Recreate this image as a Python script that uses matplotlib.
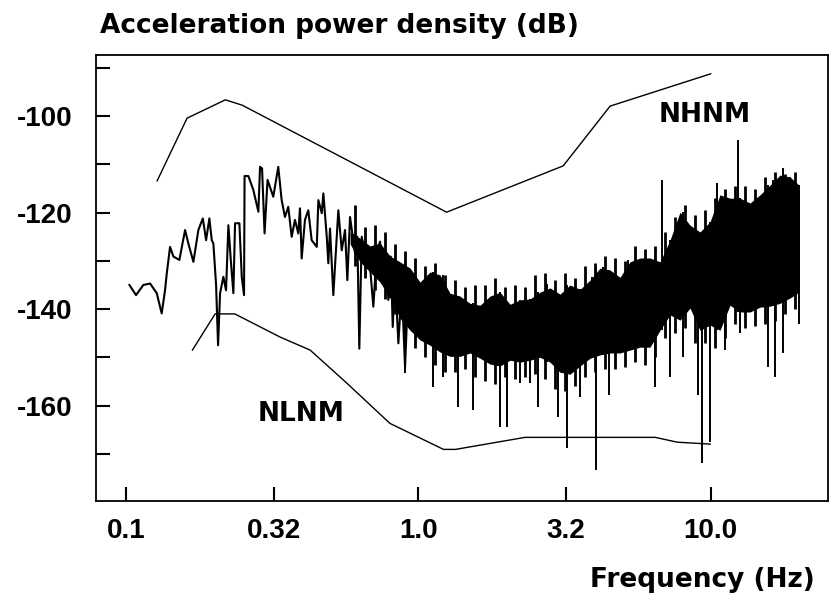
import matplotlib
matplotlib.use('Agg')
import matplotlib.pyplot as plt

# new high / new low noise models (Hz, dB)
nhnm_f = [0.128, 0.162, 0.219, 0.250, 1.25, 3.13, 4.53, 10.0]
nhnm_db = [-113.4, -100.4, -96.6, -97.7, -119.9, -110.3, -97.9, -91.2]

nlnm_f = [0.169, 0.202, 0.236, 0.337, 0.427, 0.571, 0.80, 1.22, 1.34, 2.32, 6.46, 7.68, 9.96]
nlnm_db = [-148.5, -141.0, -141.0, -145.8, -148.5, -155.4, -163.7, -169.1, -169.1, -166.6, -166.6, -167.6, -168.0]

# low frequency part of the spectrum, single trace
spec_f = [0.1029, 0.1084, 0.1148, 0.1211, 0.1276, 0.1327, 0.1362, 0.1381, 0.1417, 0.1455,
          0.1525, 0.1595, 0.1637, 0.1703, 0.1771, 0.1834, 0.1882, 0.1931, 0.1968, 0.1993,
          0.2036, 0.2068, 0.2101, 0.2156, 0.2202, 0.2243, 0.2286, 0.2333, 0.2364, 0.2446,
          0.2492, 0.2537, 0.2548, 0.2625, 0.2730, 0.2840, 0.2878, 0.2924, 0.2982, 0.3053,
          0.3194, 0.3322, 0.3412, 0.3502, 0.3594, 0.3692, 0.3789, 0.3889, 0.3941, 0.3994,
          0.4099, 0.4207, 0.4321, 0.4498, 0.4555, 0.4679, 0.4738, 0.4866, 0.4927, 0.4993,
          0.5124, 0.5330, 0.5475, 0.5619, 0.5722, 0.5845, 0.6079, 0.6190, 0.6288, 0.6408,
          0.6577, 0.6699, 0.6842, 0.7022, 0.7213, 0.7403, 0.7562, 0.7761, 0.7903, 0.8054,
          0.8181, 0.8331, 0.8551, 0.8782, 0.9014, 0.9252]
spec_db = [-135.0, -137.1, -135.0, -134.7, -136.7, -140.9, -136.1, -132.6, -127.1, -129.1,
           -129.8, -123.6, -126.4, -130.2, -123.6, -121.2, -125.7, -121.2, -125.7, -126.4,
           -135.0, -147.5, -136.7, -133.3, -136.1, -122.6, -129.8, -136.7, -122.2, -122.2,
           -133.3, -137.1, -112.4, -112.4, -115.3, -119.8, -110.5, -110.8, -124.3, -113.2,
           -116.7, -110.5, -117.4, -120.9, -118.8, -125.0, -121.5, -124.3, -119.1, -129.5,
           -121.5, -119.5, -125.7, -127.1, -117.4, -120.1, -116.0, -125.0, -130.5, -123.3,
           -137.1, -119.5, -127.8, -123.6, -134.0, -120.9, -128.4, -125.0, -148.2, -125.0,
           -128.4, -129.1, -131.2, -139.5, -128.4, -126.0, -132.6, -129.8, -138.1, -129.1,
           -143.7, -132.6, -147.1, -135.4, -152.0, -134.7]

# dense part of the spectrum: upper and lower edge of the black band
band_f = [0.585, 0.632, 0.684, 0.740, 0.801, 0.866, 0.938, 1.014, 1.097, 1.187,
          1.284, 1.389, 1.503, 1.627, 1.760, 1.904, 2.060, 2.228, 2.411, 2.608,
          2.822, 3.053, 3.304, 3.574, 3.867, 4.183, 4.526, 4.897, 5.298, 5.732,
          6.201, 6.709, 7.259, 7.853, 8.497, 9.193, 9.945, 10.76, 11.64, 12.60,
          13.63, 14.74, 15.95, 17.26, 18.67, 20.04]
band_top = [-124.0, -125.3, -126.9, -126.3, -129.0, -130.2, -131.5, -134.4, -132.3, -132.9,
            -136.7, -137.3, -138.8, -139.2, -137.3, -136.5, -139.0, -138.1, -137.9, -136.5,
            -135.6, -136.9, -135.0, -135.9, -134.0, -131.5, -131.9, -133.4, -130.2, -129.4,
            -129.4, -130.2, -125.7, -119.9, -122.6, -124.0, -121.9, -116.3, -117.0, -117.0,
            -118.0, -116.3, -114.3, -112.2, -112.6, -114.3]
band_bot = [-126.5, -130.2, -132.3, -134.4, -137.7, -141.9, -144.4, -146.4, -147.5, -148.9,
            -149.8, -149.8, -149.1, -150.2, -151.4, -151.8, -150.6, -151.0, -150.6, -150.0,
            -151.0, -153.1, -153.5, -151.8, -150.2, -149.5, -149.1, -149.1, -148.5, -147.9,
            -147.9, -144.4, -141.2, -142.3, -139.8, -144.4, -143.3, -144.4, -139.2, -140.6,
            -140.6, -139.6, -139.4, -138.8, -137.7, -136.5]

# short ragged strokes across the band (sticking out on both sides)
fringe_f = [0.6079, 0.6577, 0.7116, 0.7698, 0.8331, 0.9014, 0.9752, 1.055, 1.141, 1.235,
            1.336, 1.445, 1.564, 1.692, 1.830, 1.981, 2.142, 2.318, 2.508, 2.713,
            2.935, 3.176, 3.436, 3.718, 4.022, 4.351, 4.708, 5.093, 5.510, 5.962,
            6.450, 6.978, 7.551, 8.168, 8.838, 9.561, 10.34, 11.19, 12.11, 13.10,
            14.17, 15.33, 16.59, 17.95, 19.42]
fringe_hi = [-118.5, -123.0, -122.5, -124.0, -126.5, -128.0, -129.5, -131.0, -130.5, -133.0,
             -134.0, -135.5, -135.0, -135.0, -133.5, -135.5, -135.0, -135.5, -133.0, -132.5,
             -134.0, -132.5, -133.5, -131.0, -130.5, -129.0, -129.5, -130.0, -127.0, -127.5,
             -127.0, -124.0, -121.0, -118.5, -120.5, -119.5, -117.0, -115.0, -114.5, -114.5,
             -115.0, -112.5, -111.5, -112.0, -111.5]
fringe_lo = [-131.0, -133.5, -136.0, -138.0, -141.0, -145.0, -148.0, -150.0, -151.5, -153.0,
             -153.0, -152.5, -154.0, -155.0, -155.5, -154.0, -154.5, -154.0, -153.5, -154.5,
             -156.5, -157.0, -156.0, -154.0, -153.0, -152.5, -152.5, -152.0, -151.0, -151.5,
             -150.0, -146.0, -145.0, -144.0, -147.0, -147.0, -148.0, -146.0, -143.0, -144.0,
             -143.5, -143.0, -142.5, -141.0, -140.0]

# single long spikes sticking out of the band
dn_f = [0.901, 1.121, 1.218, 1.371, 1.543, 1.904, 2.016, 2.228, 2.411, 2.574,
        3.013, 3.219, 3.574, 4.054, 4.502, 6.450, 7.259, 8.06, 9.07, 9.316,
        9.945, 11.19, 12.60, 15.74, 16.59, 17.71, 20.09]
dn_db = [-153.3, -156.1, -154.0, -160.3, -161.0, -164.4, -164.4, -155.4, -155.4, -160.3,
         -162.3, -168.9, -158.2, -173.3, -157.8, -156.1, -154.0, -149.9, -157.8, -172.0,
         -167.5, -148.5, -145.0, -152.0, -154.0, -149.2, -143.0]
up_f = [0.801, 1.904, 2.750, 3.919, 4.294, 5.228, 6.80, 10.54, 12.42, 16.36, 17.71, 18.67]
up_db = [-129.1, -136.4, -134.7, -133.3, -131.2, -129.8, -113.2, -113.9, -104.9, -113.2, -110.8, -112.6]

xticks = [0.1, 0.32, 1.0, 3.2, 10.0]
xlabels = ['0.1', '0.32', '1.0', '3.2', '10.0']
yticks = [-160, -140, -120, -100]
yminor = [-170, -150, -130, -110, -90]

plt.rcParams['font.family'] = 'DejaVu Sans'
plt.rcParams['font.weight'] = 'bold'
plt.rcParams['axes.unicode_minus'] = False

fig = plt.figure(figsize=(8.32, 5.99), dpi=100)
ax = fig.add_axes([96/832, 98/599, 732/832, 446/599])
ax.set_xscale('log')

ax.plot(nhnm_f, nhnm_db, color='black', lw=1.0)
ax.plot(nlnm_f, nlnm_db, color='black', lw=1.0)
ax.plot(spec_f, spec_db, color='black', lw=1.5)
ax.fill_between(band_f, band_bot, band_top, color='black', lw=0)


# spikes are anchored on the far edge of the band so they always join it
def edge(f, vals):
    i = min(range(len(band_f)), key=lambda k: abs(band_f[k] - f))
    return vals[i]


ax.vlines(fringe_f, fringe_lo, fringe_hi, color='black', lw=2.0)
ax.vlines(dn_f, [edge(f, band_top) for f in dn_f], dn_db, color='black', lw=1.4)
ax.vlines(up_f, [edge(f, band_bot) for f in up_f], up_db, color='black', lw=1.4)

ax.text(9.56, -99.8, 'NHNM', fontsize=19, fontweight='bold', ha='center', va='center')
ax.text(0.397, -161.8, 'NLNM', fontsize=19, fontweight='bold', ha='center', va='center')

ax.set_xlim(0.0791, 25.18)
ax.set_ylim(-179.8, -87.3)
ax.set_xticks(xticks)
ax.set_xticklabels(xlabels)
ax.xaxis.set_minor_locator(matplotlib.ticker.NullLocator())
ax.set_yticks(yticks)
ax.set_yticks(yminor, minor=True)
ax.tick_params(which='both', direction='in', length=10, width=1.5)
ax.tick_params(axis='x', pad=12)
ax.tick_params(axis='y', pad=17)
for lab in ax.get_xticklabels() + ax.get_yticklabels():
    lab.set_fontfamily('Liberation Sans')
    lab.set_fontsize(20)
    lab.set_fontweight('bold')
for s in ax.spines.values():
    s.set_linewidth(1.3)

fig.text(100/832, 1 - 33/599, 'Acceleration power density (dB)', fontsize=19,
         fontweight='bold', va='baseline', ha='left')
fig.text(815/832, 1 - 587/599, 'Frequency (Hz)', fontsize=19,
         fontweight='bold', va='baseline', ha='right')

fig.savefig('out.png', dpi=100)
